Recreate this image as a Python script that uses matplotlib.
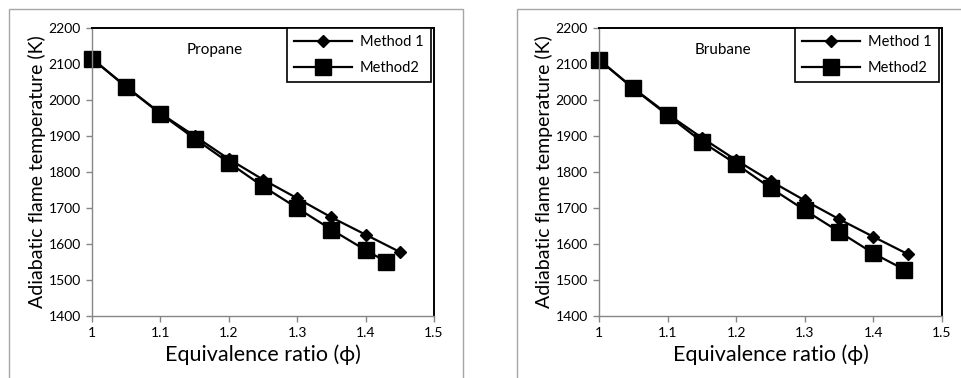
import matplotlib.pyplot as plt
from matplotlib.patches import Rectangle

plt.rcParams['font.family'] = ['Lato', 'DejaVu Sans']

phi = [1, 1.05, 1.1, 1.15, 1.2, 1.25, 1.3, 1.35, 1.4, 1.45]

propane_m1 = [2115, 2037, 1963, 1900, 1836, 1779, 1727, 1674, 1626, 1578]
propane_phi2 = [1, 1.05, 1.1, 1.15, 1.2, 1.25, 1.3, 1.35, 1.4, 1.43]
propane_m2 = [2115, 2036, 1962, 1893, 1826, 1760, 1700, 1640, 1583, 1551]

brubane_m1 = [2112, 2033, 1961, 1895, 1833, 1775, 1721, 1669, 1620, 1572]
brubane_phi2 = [1, 1.05, 1.1, 1.15, 1.2, 1.25, 1.3, 1.35, 1.4, 1.445]
brubane_m2 = [2112, 2032, 1958, 1884, 1822, 1756, 1694, 1634, 1574, 1529]

fig = plt.figure(figsize=(9.61, 3.78), dpi=100)

# outer chart borders (excel style)
fig.patches.append(Rectangle((9/961, -0.1), 454/961, 1.1 - 9/378, transform=fig.transFigure,
                             fill=False, edgecolor='#a6a6a6', lw=1))
fig.patches.append(Rectangle((517/961, -0.1), 0.6, 1.1 - 9/378, transform=fig.transFigure,
                             fill=False, edgecolor='#a6a6a6', lw=1))

panels = [
    ([92/961, 62/378, 342/961, 288/378], 'Propane', propane_m1, propane_phi2, propane_m2),
    ([599/961, 62/378, 343/961, 288/378], 'Brubane', brubane_m1, brubane_phi2, brubane_m2),
]

for rect, name, m1, phi2, m2 in panels:
    ax = fig.add_axes(rect)
    ax.plot(phi, m1, color='black', lw=1.6, marker='D', markersize=6.5, label='Method 1', clip_on=False)
    ax.plot(phi2, m2, color='black', lw=1.6, marker='s', markersize=11, label='Method2', clip_on=False)
    ax.set_xlim(1, 1.5)
    ax.set_ylim(1400, 2200)
    ax.set_xticks([1, 1.1, 1.2, 1.3, 1.4, 1.5])
    ax.set_xticklabels(['1', '1.1', '1.2', '1.3', '1.4', '1.5'])
    ax.set_yticks(range(1400, 2201, 100))
    ax.tick_params(labelsize=10, length=4, width=1, color='#868686', pad=4)
    for s in ['top', 'right']:
        ax.spines[s].set_color('black')
        ax.spines[s].set_linewidth(1.4)
    for s in ['left', 'bottom']:
        ax.spines[s].set_color('#868686')
        ax.spines[s].set_linewidth(1)
    ax.set_xlabel('Equivalence ratio (ϕ)', fontsize=15.5, labelpad=4)
    ax.set_ylabel('Adiabatic flame temperature (K)', fontsize=14, labelpad=2)
    ax.text(1.18, 2140, name, fontsize=11, ha='center', va='center')
    leg = ax.legend(loc='upper right', bbox_to_anchor=(0.99, 1.0), fontsize=10.5, fancybox=False,
                    framealpha=1, edgecolor='black', handlelength=4.0, borderaxespad=0.0,
                    labelspacing=0.8, borderpad=0.5, handletextpad=0.5)
    leg.get_frame().set_linewidth(1.2)

fig.savefig('out.png', dpi=100)
